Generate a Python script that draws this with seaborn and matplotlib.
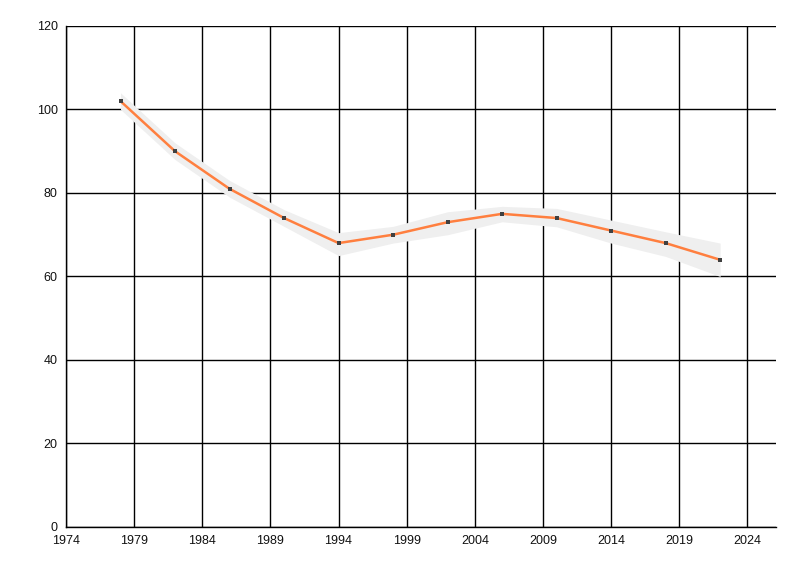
import pandas as pd
import seaborn as sns
import matplotlib.pyplot as plt

# Data
years = [1978, 1982, 1986, 1990, 1994, 1998, 2002, 2006, 2010, 2014, 2018, 2022]
values = [102, 90, 81, 74, 68, 70, 73, 75, 74, 71, 68, 64]
upper = [104, 92, 83, 76, 70.5, 72, 75.5, 76.8, 76.3, 73.5, 70.7, 68]
lower = [100, 88, 79, 72, 65, 68, 70, 73.1, 71.9, 68, 64.8, 60]
xticks = list(range(1974, 2025, 5))
yticks = list(range(0, 121, 20))

df = pd.DataFrame({'year': years, 'value': values, 'upper': upper, 'lower': lower})

sns.set_style('white')
plt.rcParams['font.family'] = ['Liberation Sans', 'DejaVu Sans']

fig = plt.figure(figsize=(8, 5.76), dpi=100)
ax = fig.add_axes([0.0825, 0.0851, 0.8875, 0.8698])

ax.fill_between(df['year'], df['lower'], df['upper'], color='#efefef', lw=0, zorder=2)
sns.lineplot(data=df, x='year', y='value', color='#ff7f3f', lw=1.8, ax=ax, zorder=3,
             marker='s', markersize=2.3, markeredgewidth=0,
             markerfacecolor='#404040')

ax.set_xlim(1974, 2026.1)
ax.set_ylim(0, 120)
ax.set_xticks(xticks)
ax.set_yticks(yticks)
ax.grid(True, color='black', lw=1)
ax.set_axisbelow(True)
ax.set_xlabel('')
ax.set_ylabel('')
for s in ['top', 'right']:
    ax.spines[s].set_visible(False)
for s in ['left', 'bottom']:
    ax.spines[s].set_color('black')
    ax.spines[s].set_linewidth(1)
ax.tick_params(axis='both', direction='out', length=5, width=1, color='black',
               labelsize=9, labelcolor='#111111', pad=1)

fig.savefig('out.png', dpi=100)
